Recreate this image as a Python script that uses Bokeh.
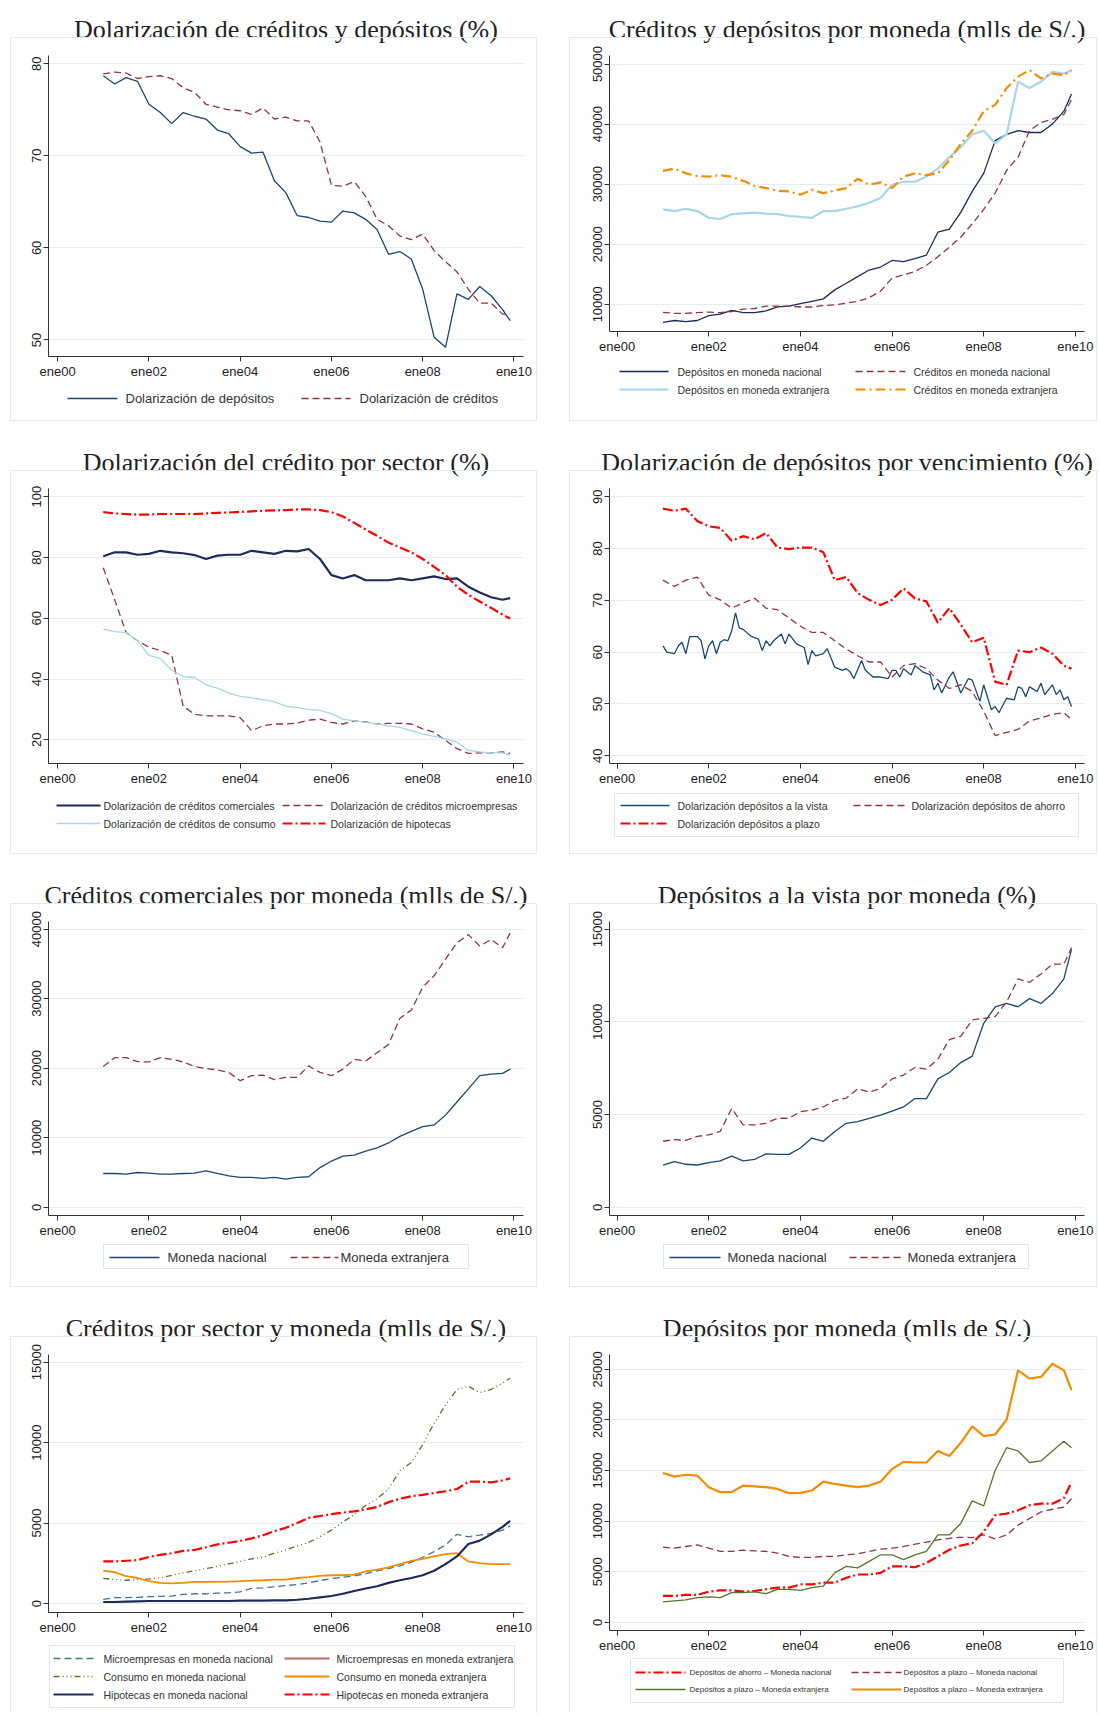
from bokeh.plotting import figure
from bokeh.models import FixedTicker, Range1d, InlineStyleSheet
from bokeh.layouts import row, column
from bokeh.core.properties import value
from bokeh.embed import file_html
from bokeh.resources import INLINE

# ---------------- data (x = months since Jan-2000) ----------------
MONTHS = [12, 15, 18, 21, 24, 27, 30, 33, 36, 39, 42, 45, 48, 51, 54, 57, 60, 63, 66,
          69, 72, 75, 78, 81, 84, 87, 90, 93, 96, 99, 102, 105, 108, 111, 114, 117, 119]
X_TICKS = [0, 24, 48, 72, 96, 120]
X_LABELS = ["ene00", "ene02", "ene04", "ene06", "ene08", "ene10"]

dolar_depositos = [78.7, 77.8, 78.5, 78.1, 75.6, 74.7, 73.5, 74.7, 74.3, 74.0, 72.8, 72.4, 71.0, 70.3, 70.4,
                   67.3, 66.0, 63.5, 63.3, 62.9, 62.8, 64.0, 63.8, 63.1, 62.0, 59.3, 59.6, 58.8, 55.5, 50.3,
                   49.2, 55.0, 54.4, 55.8, 54.8, 53.3, 52.1]
dolar_creditos = [78.9, 79.1, 79.0, 78.4, 78.6, 78.7, 78.4, 77.4, 76.9, 75.6, 75.3, 75.0, 74.9, 74.5, 75.2,
                  74.0, 74.2, 73.8, 73.8, 71.5, 66.8, 66.7, 67.2, 65.6, 63.1, 62.4, 61.3, 60.9, 61.5, 59.7,
                  58.5, 57.4, 55.5, 54.0, 54.0, 52.8, 52.8]
dep_mn = [7000, 7300, 7100, 7300, 8100, 8360, 9000, 8600, 8600, 8900, 9560, 9700, 10100, 10500, 10900,
          12400, 13500, 14600, 15700, 16200, 17300, 17100, 17600, 18200, 22000, 22500, 25300, 28800, 31800,
          37250, 38300, 38900, 38600, 38600, 40000, 42150, 45000]
dep_me = [25800, 25500, 25900, 25500, 24400, 24200, 25000, 25150, 25250, 25100, 25000, 24700, 24550, 24400,
          25500, 25500, 25900, 26300, 26900, 27700, 29900, 30400, 30400, 31250, 32600, 34500, 36150, 38300,
          38900, 36800, 38300, 47050, 46000, 47050, 48700, 48400, 48950]
cred_mn = [8640, 8500, 8500, 8600, 8700, 8600, 8800, 9200, 9300, 9700, 9700, 9700, 9550, 9550, 9800, 9900,
           10200, 10500, 11100, 12200, 14350, 14900, 15450, 16500, 17900, 19500, 21200, 23400, 25800, 28500,
           32300, 34500, 38900, 40250, 40800, 41600, 44100]
cred_me = [32200, 32600, 31800, 31350, 31250, 31500, 31250, 30550, 29700, 29350, 28900, 28800, 28250, 29050,
           28500, 28950, 29350, 30900, 29900, 30300, 29350, 31250, 31800, 31500, 31800, 34000, 36700, 38900,
           42150, 43200, 46000, 47900, 49000, 47600, 48400, 48150, 48950]
dol_comerciales = [80.4, 81.7, 81.7, 80.9, 81.2, 82.2, 81.7, 81.4, 80.8, 79.5, 80.6, 80.9, 80.9, 82.2, 81.7,
                   81.2, 82.2, 82.0, 82.8, 79.5, 74.2, 73.1, 74.2, 72.5, 72.5, 72.5, 73.1, 72.5, 73.1, 73.8,
                   72.9, 73.1, 70.4, 68.5, 66.9, 66.1, 66.6]
dol_micro = [76.6, 66.1, 55.3, 52.6, 50.5, 49.4, 47.8, 31.1, 28.4, 27.9, 27.9, 27.9, 27.3, 23.0, 24.6, 25.2,
             25.2, 25.5, 26.5, 26.8, 25.7, 25.2, 26.2, 25.9, 25.2, 25.4, 25.4, 25.2, 23.6, 22.5, 19.8, 17.1,
             15.5, 15.7, 15.7, 16.0, 15.5]
dol_consumo = [56.4, 55.6, 55.3, 52.6, 47.8, 46.7, 42.9, 40.8, 40.5, 38.1, 37.0, 35.4, 34.3, 33.8, 33.2, 32.5,
               31.1, 30.6, 30.0, 29.7, 28.6, 26.8, 26.2, 25.7, 25.2, 24.6, 24.1, 23.0, 21.9, 21.1, 20.3, 19.2,
               16.5, 16.0, 15.7, 15.7, 14.9]
dol_hipotecas = [94.9, 94.5, 94.3, 94.1, 94.1, 94.3, 94.3, 94.3, 94.3, 94.5, 94.7, 94.8, 95.0, 95.2, 95.4,
                 95.5, 95.6, 95.8, 95.8, 95.6, 94.9, 93.5, 91.4, 89.2, 87.1, 84.9, 83.3, 81.7, 79.5, 76.9,
                 74.2, 70.4, 67.7, 65.5, 63.4, 61.2, 59.9]
vista_months = [12, 13, 15, 16, 17, 18, 19, 21, 22, 23, 24, 25, 26, 27, 28, 29, 30, 31, 32, 33, 35, 37, 38, 39,
                40, 41, 43, 44, 45, 47, 49, 50, 51, 52, 54, 55, 57, 59, 60, 61, 62, 64, 65, 66, 67, 69, 71, 72,
                73, 74, 75, 77, 78, 80, 82, 83, 84, 85, 87, 88, 90, 92, 93, 95, 96, 98, 99, 100, 102, 104, 105,
                106, 107, 108, 110, 111, 112, 114, 115, 116, 117, 118, 119]
dol_vista = [61.2, 60.0, 59.7, 61.2, 61.9, 59.7, 63.0, 63.0, 62.2, 58.7, 61.2, 62.2, 59.7, 61.9, 62.4, 62.2,
             64.1, 67.6, 64.7, 64.4, 63.1, 62.5, 60.3, 62.2, 61.2, 62.2, 63.5, 61.6, 63.5, 61.6, 60.9, 57.6,
             60.3, 59.3, 59.7, 60.7, 57.1, 56.5, 56.8, 56.2, 54.9, 58.4, 56.5, 55.9, 55.2, 55.2, 54.9, 56.5,
             56.5, 55.2, 56.8, 55.6, 57.4, 56.2, 55.6, 52.7, 54.0, 52.1, 55.2, 56.2, 52.1, 54.9, 54.6, 50.5,
             53.7, 48.9, 49.5, 48.3, 51.1, 50.8, 53.3, 53.0, 51.4, 53.3, 52.4, 54.0, 51.8, 53.7, 51.8, 52.7,
             50.8, 51.4, 49.5]
dol_ahorro = [73.9, 72.7, 73.9, 74.5, 71.0, 70.1, 68.5, 69.5, 70.4, 68.5, 68.2, 66.6, 65.0, 63.8, 63.8, 62.2,
              60.6, 59.3, 58.1, 58.1, 55.2, 57.4, 57.8, 56.8, 54.6, 53.0, 53.7, 52.4, 48.6, 43.9, 44.5, 45.1,
              46.7, 47.3, 48.0, 48.3, 47.0]
dol_plazo = [87.7, 87.3, 87.7, 85.3, 84.3, 84.0, 81.5, 82.4, 81.8, 83.0, 80.2, 79.9, 80.2, 80.2, 79.3, 73.9,
             74.5, 71.4, 70.1, 69.1, 70.1, 72.3, 70.4, 69.8, 65.7, 68.5, 65.3, 61.9, 62.8, 54.3, 53.7, 60.3,
             60.0, 60.9, 59.7, 57.4, 56.8]
com_mn = [4860, 4860, 4760, 5000, 4900, 4760, 4760, 4860, 4900, 5240, 4860, 4530, 4290, 4290, 4150, 4290, 4060,
          4290, 4390, 5710, 6650, 7360, 7500, 8070, 8540, 9250, 10190, 10900, 11600, 11840, 13250, 15140,
          17030, 18920, 19150, 19250, 19860]
com_me = [20240, 21510, 21510, 20940, 20900, 21510, 21270, 20900, 20240, 19950, 19760, 19390, 18200, 18920,
          19010, 18350, 18680, 18680, 20330, 19390, 18920, 19860, 21270, 21040, 22220, 23400, 27170, 28350,
          31650, 33300, 35660, 38020, 39200, 37550, 38490, 37310, 39430]
vis_mn = [2280, 2460, 2320, 2280, 2410, 2500, 2760, 2500, 2580, 2880, 2850, 2850, 3200, 3730, 3560, 4090, 4530,
          4620, 4800, 4970, 5180, 5410, 5860, 5860, 6920, 7270, 7800, 8150, 9920, 10810, 10990, 10810, 11250,
          10990, 11520, 12310, 13900]
vis_me = [3560, 3650, 3610, 3820, 3910, 4090, 5330, 4440, 4440, 4530, 4800, 4800, 5150, 5240, 5410, 5770, 5890,
          6390, 6210, 6390, 6920, 7130, 7540, 7450, 7980, 9040, 9220, 10100, 10190, 10280, 11070, 12310, 12130,
          12580, 13110, 13110, 13990]
micro_mn = [260, 370, 370, 390, 430, 450, 470, 570, 610, 610, 650, 670, 730, 940, 980, 1040, 1120, 1180, 1290,
            1430, 1550, 1640, 1720, 1860, 2040, 2170, 2350, 2560, 2880, 3230, 3640, 4300, 4150, 4250, 4360,
            4560, 4830]
micro_me = []
consumo_mn = [1570, 1490, 1450, 1490, 1530, 1590, 1760, 1900, 2040, 2170, 2310, 2470, 2620, 2780, 2880, 3130,
              3330, 3580, 3800, 4150, 4560, 5070, 5520, 6100, 6510, 7120, 8250, 8760, 9880, 11210, 12340, 13300,
              13500, 13100, 13300, 13700, 14000]
consumo_me = [2040, 1960, 1700, 1590, 1390, 1290, 1250, 1290, 1350, 1350, 1350, 1370, 1390, 1430, 1450, 1490,
              1490, 1590, 1640, 1720, 1760, 1760, 1800, 2000, 2110, 2250, 2450, 2660, 2780, 2930, 3070, 3130,
              2620, 2520, 2450, 2450, 2450]
hipo_mn = [100, 100, 120, 140, 160, 160, 160, 160, 160, 160, 160, 160, 180, 180, 180, 200, 200, 240, 300, 390,
           470, 610, 780, 940, 1080, 1290, 1450, 1590, 1760, 2040, 2450, 2930, 3700, 3910, 4300, 4770, 5130]
hipo_me = [2620, 2620, 2660, 2700, 2900, 3030, 3130, 3270, 3330, 3500, 3680, 3780, 3890, 4050, 4250, 4500, 4710,
           5010, 5320, 5440, 5560, 5650, 5730, 5850, 6000, 6300, 6510, 6670, 6750, 6870, 6980, 7120, 7570, 7570,
           7530, 7650, 7780]
ahorro_mn = [2600, 2600, 2700, 2700, 3030, 3160, 3160, 3030, 3090, 3260, 3420, 3420, 3740, 3740, 3910, 3910,
             4400, 4720, 4720, 4880, 5530, 5530, 5440, 5860, 6510, 7160, 7590, 7810, 8950, 10580, 10740, 11070,
             11560, 11720, 11720, 12270, 13840]
plazo_mn = [7420, 7320, 7490, 7650, 7320, 7000, 7000, 7130, 7060, 7000, 6840, 6510, 6410, 6410, 6510, 6510, 6670,
            6770, 7000, 7230, 7320, 7490, 7720, 7910, 8140, 8300, 8400, 8370, 8630, 8240, 8630, 9600, 10250,
            10900, 11170, 11390, 12210]
plazo_me_g = [2020, 2120, 2220, 2440, 2510, 2440, 2930, 2930, 3000, 2830, 3260, 3260, 3160, 3420, 3580, 4880,
              5530, 5370, 6020, 6670, 6670, 6190, 6670, 7000, 8630, 8630, 9770, 12000, 11500, 15000, 17250, 16930,
              15790, 15950, 16930, 17900, 17250]
plazo_me_o = [14750, 14390, 14580, 14490, 13350, 12860, 12860, 13510, 13440, 13350, 13180, 12760, 12790, 13020,
              13900, 13670, 13510, 13350, 13510, 13900, 15140, 15850, 15790, 15790, 16930, 16440, 17740, 19370,
              18390, 18560, 20020, 24900, 24090, 24250, 25550, 24900, 22950]

# ---------------- styling ----------------
NAVY, DKNAVY, MAROON, LTBLUE = "#1a476f", "#1c2b5a", "#90353b", "#a8d5e8"
ORANGE, RED, GREEN, BLUE, PINK = "#f28c00", "#ff0000", "#55752f", "#46709d", "#b5676b"
DASH, DASHDOT, DASHDOTS = "7 4", "10 3 2 3", "6 3 1 3 1 3 1 3"
BOXC, LEGC = "#e2eaee", "#dde6ea"


def css_box(left, top, width, height, hide):
    return InlineStyleSheet(css=(
        ":host::after{content:'';position:absolute;left:%spx;top:%spx;width:%spx;height:%spx;"
        "border:1px solid %s;%sbox-sizing:border-box;pointer-events:none;}"
        % (left, top, width, height, BOXC, "".join("border-%s:none;" % h for h in hide))))


def panel(title, side, row_h, frame_top, frame_h, y_range, y_ticks, series, leg, last_row=False):
    if side == "L":
        w, mbl, mbr, xr, toff, bl, bw = 568, 48, 45, (-2.4, 122.5), -12.5, 9.5, 527.5
    else:
        w, mbl, mbr, xr, toff, bl, bw = 530, 41, 14, (-2.0, 122.4), -13.5, 1, 528
    hm = frame_top + frame_h + leg.get("axis_h", 28)
    p = figure(width=w, height=hm, x_range=Range1d(*xr), y_range=Range1d(*y_range),
               output_backend="svg", toolbar_location=None, title=title,
               min_border_left=mbl, min_border_right=mbr, min_border_top=frame_top,
               min_border_bottom=hm - frame_top - frame_h,
               stylesheets=[css_box(bl, 37, bw, hm - 37, ["bottom"])])
    p.title.text_font = "Liberation Serif"
    p.title.text_font_size = "26px"
    p.title.text_font_style = "normal"
    p.title.text_color = "#222222"
    p.title.align = "center"
    p.title.offset = toff
    p.title.standoff = 24
    p.outline_line_color = None
    p.xgrid.visible = False
    p.ygrid.grid_line_color = "#e3ecef"
    p.xaxis.ticker = FixedTicker(ticks=X_TICKS)
    p.xaxis.major_label_overrides = {t: l for t, l in zip(X_TICKS, X_LABELS)}
    p.yaxis.ticker = FixedTicker(ticks=y_ticks)
    p.yaxis.major_label_orientation = "vertical"
    for ax in (p.xaxis[0], p.yaxis[0]):
        ax.axis_line_color = "#333333"
        ax.major_tick_line_color = "#333333"
        ax.minor_tick_line_color = None
        ax.major_tick_out = 5
        ax.major_tick_in = 0
        ax.major_label_standoff = 2
        ax.major_label_text_font = "Liberation Sans"
        ax.major_label_text_font_size = "13px"
        ax.major_label_text_color = "#222222"
    for s in series:
        if len(s["x"]):
            p.line(s["x"], s["y"], line_color=s["c"], line_width=s["w"], line_dash=s["d"])

    # legend drawn in its own canvas; its frame is aligned with the plot frame above,
    # so the x range is set to the frame's pixel span (figure pixel coordinates)
    hl = row_h - hm
    hide = ["top", "bottom"] if last_row else ["top"]
    box_h = hl if last_row else 421 - hm
    q = figure(width=w, height=hl, x_range=Range1d(mbl, w - mbr), y_range=Range1d(row_h, hm),
               x_axis_type=None, y_axis_type=None, min_border=0,
               min_border_left=mbl, min_border_right=mbr, min_border_top=0, min_border_bottom=0,
               output_backend="svg", toolbar_location=None, stylesheets=[css_box(bl, 0, bw, box_h, hide)])
    q.outline_line_color = None
    if leg.get("box"):
        l, r, t, b = leg["box"]
        q.quad(left=[l], right=[r], top=[t], bottom=[b], fill_color=None, line_color=LEGC, line_width=1)
    tx, ty, tt = [], [], []
    for (si, ri, ci) in leg["slots"]:
        s = series[si]
        y = leg["rows"][ri]
        g0, g1, t0 = leg["cols"][ci]
        q.line([g0, g1], [y, y], line_color=s["c"], line_width=s["w"], line_dash=s["d"])
        tx.append(t0)
        ty.append(y)
        tt.append(s["label"])
    q.text(x=tx, y=ty, text=tt, text_font=value("Liberation Sans"), text_font_size=value(leg["fs"]),
           text_baseline="middle", text_align="left", text_color="#333333")
    return column(p, q)


def S(x, y, c, w, label, d="solid"):
    return dict(x=x, y=y, c=c, w=w, label=label, d=d)


P1 = panel("Dolarización de créditos y depósitos (%)", "L", 433, 50, 306, (48.2, 80.9), [50, 60, 70, 80],
           [S(MONTHS, dolar_depositos, NAVY, 1.3, "Dolarización de depósitos"),
            S(MONTHS, dolar_creditos, MAROON, 1.3, "Dolarización de créditos", DASH)],
           dict(fs="13px", rows=[398], cols=[(67, 117, 125), (301, 350, 359)], slots=[(0, 0, 0), (1, 0, 1)]))

P2 = panel("Créditos y depósitos por moneda (mlls de S/.)", "R", 433, 50, 281, (5470, 51420),
           [10000, 20000, 30000, 40000, 50000],
           [S(MONTHS, dep_mn, DKNAVY, 1.3, "Depósitos en moneda nacional"),
            S(MONTHS, dep_me, LTBLUE, 2.2, "Depósitos en moneda extranjera"),
            S(MONTHS, cred_mn, MAROON, 1.3, "Créditos en moneda nacional", DASH),
            S(MONTHS, cred_me, ORANGE, 2.2, "Créditos en moneda extranjera", "10 4 2 4")],
           dict(fs="10.5px", rows=[371, 389], cols=[(51, 100, 109), (287, 337, 345)],
                slots=[(0, 0, 0), (2, 0, 1), (1, 1, 0), (3, 1, 1)]))

P3 = panel("Dolarización del crédito por sector (%)", "L", 433, 50, 280, (12.2, 102.7), [20, 40, 60, 80, 100],
           [S(MONTHS, dol_comerciales, DKNAVY, 2.2, "Dolarización de créditos comerciales"),
            S(MONTHS, dol_micro, MAROON, 1.3, "Dolarización de créditos microempresas", DASH),
            S(MONTHS, dol_consumo, LTBLUE, 1.3, "Dolarización de créditos de consumo"),
            S(MONTHS, dol_hipotecas, RED, 2.2, "Dolarización de hipotecas", DASHDOT)],
           dict(fs="10.5px", rows=[372, 390], cols=[(56, 100, 103), (282, 325, 330)],
                slots=[(0, 0, 0), (1, 0, 1), (2, 1, 0), (3, 1, 1)]))

P4 = panel("Dolarización de depósitos por vencimiento (%)", "R", 433, 50, 280, (38.5, 91.6),
           [40, 50, 60, 70, 80, 90],
           [S(vista_months, dol_vista, NAVY, 1.3, "Dolarización depósitos a la vista"),
            S(MONTHS, dol_ahorro, MAROON, 1.3, "Dolarización depósitos de ahorro", DASH),
            S(MONTHS, dol_plazo, RED, 2.2, "Dolarización depósitos a plazo", DASHDOT)],
           dict(fs="10.5px", rows=[372, 390], cols=[(52, 101, 109), (285, 336, 343)],
                slots=[(0, 0, 0), (1, 0, 1), (2, 1, 0)], box=(46, 510, 360, 403)))

P5 = panel("Créditos comerciales por moneda (mlls de S/.)", "L", 433, 51, 298, (-1180, 41085),
           [0, 10000, 20000, 30000, 40000],
           [S(MONTHS, com_mn, NAVY, 1.3, "Moneda nacional"),
            S(MONTHS, com_me, MAROON, 1.3, "Moneda extranjera", DASH)],
           dict(fs="13px", rows=[391], cols=[(109, 159, 167), (290, 338, 340)],
                slots=[(0, 0, 0), (1, 0, 1)], box=(103, 468, 378, 402)))

P6 = panel("Depósitos a la vista por moneda (%)", "R", 433, 51, 298, (-442, 15407), [0, 5000, 10000, 15000],
           [S(MONTHS, vis_mn, NAVY, 1.3, "Moneda nacional"),
            S(MONTHS, vis_me, MAROON, 1.3, "Moneda extranjera", DASH)],
           dict(fs="13px", rows=[391], cols=[(101, 152, 159), (281, 332, 339)],
                slots=[(0, 0, 0), (1, 0, 1)], box=(95, 460, 378, 402)))

P7 = panel("Créditos por sector y moneda (mlls de S/.)", "L", 414, 52, 261, (-553, 15471),
           [0, 5000, 10000, 15000],
           [S(MONTHS, micro_mn, BLUE, 1.3, "Microempresas en moneda nacional", DASH),
            S(micro_me, micro_me, PINK, 2.0, "Microempresas en moneda extranjera"),
            S(MONTHS, consumo_mn, GREEN, 1.3, "Consumo en moneda nacional", DASHDOTS),
            S(MONTHS, consumo_me, ORANGE, 1.8, "Consumo en moneda extranjera"),
            S(MONTHS, hipo_mn, DKNAVY, 2.2, "Hipotecas en moneda nacional"),
            S(MONTHS, hipo_me, RED, 2.2, "Hipotecas en moneda extranjera", DASHDOT)],
           dict(fs="10.5px", rows=[359, 377, 395], cols=[(53, 93, 103), (284, 329, 336)],
                slots=[(0, 0, 0), (1, 0, 1), (2, 1, 0), (3, 1, 1), (4, 2, 0), (5, 2, 1)],
                box=(49, 514, 346, 408)),
           last_row=True)

P8 = panel("Depósitos por moneda (mlls de S/.)", "R", 414, 52, 279, (-814, 26465),
           [0, 5000, 10000, 15000, 20000, 25000],
           [S(MONTHS, ahorro_mn, RED, 2.2, "Depósitos de ahorro – Moneda nacional", DASHDOT),
            S(MONTHS, plazo_mn, MAROON, 1.3, "Depósitos a plazo – Moneda nacional", DASH),
            S(MONTHS, plazo_me_g, GREEN, 1.3, "Depósitos a plazo – Moneda extranjera"),
            S(MONTHS, plazo_me_o, ORANGE, 2.2, "Depósitos a plazo – Moneda extranjera")],
           dict(fs="8px", rows=[373, 390], cols=[(67, 117, 121), (283, 333, 335)], axis_h=26,
                slots=[(0, 0, 0), (1, 0, 1), (2, 1, 0), (3, 1, 1)], box=(62, 495, 359, 403)),
           last_row=True)

layout = column(row(P1, P2), row(P3, P4), row(P5, P6), row(P7, P8))
open("out.html", "w").write(file_html(layout, INLINE))
